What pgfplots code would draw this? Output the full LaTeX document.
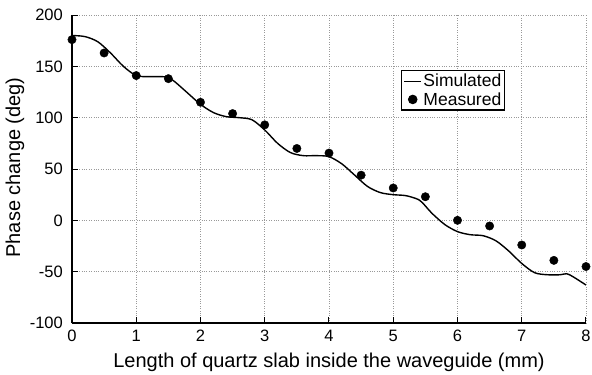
\documentclass[border=0pt]{standalone}
\usepackage{fontspec}
\setmainfont{Liberation Sans}
\usepackage{pgfplots}
\pgfplotsset{compat=1.18}
\begin{document}
\begin{tikzpicture}
\begin{axis}[
  scale only axis,
  width=514pt, height=308pt,
  xmin=0, xmax=8, ymin=-100, ymax=200,
  xtick={0,1,...,8}, ytick={-100,-50,0,50,100,150,200},
  axis x line*=bottom, axis y line*=left,
  axis line style={line width=1.3pt, -},
  tick align=inside,
  major tick length=6pt,
  tick style={black, line width=1pt},
  grid=major,
  grid style={gray!80, dotted, line width=0.7pt},
  /pgf/number format/assume math mode=true,
  ticklabel style={font=\fontsize{16.5}{19}\selectfont},
  xticklabel style={inner sep=0pt, yshift=-7pt},
  yticklabel style={inner sep=0pt, xshift=-9pt},
  label style={font=\fontsize{20}{23}\selectfont},
  xlabel={Length of quartz slab inside the waveguide (mm)},
  ylabel={Phase change (deg)},
  xlabel style={at={(axis description cs:0.5,-0.127)}, anchor=center},
  ylabel style={at={(axis description cs:-0.111,0.505)}, anchor=center},
  legend style={at={(0.640,0.821)}, anchor=north west, draw=black, line width=1.1pt,
    font=\fontsize{17.5}{19}\selectfont, inner xsep=2pt, inner ysep=2pt, row sep=1pt,
    nodes={inner sep=1.5pt}},
  legend cell align=left,
]
\coordinate (O) at (rel axis cs:0,0);
\addplot[black, line width=1.4pt, smooth, tension=0.5] coordinates {
(0,180) (0.2,179) (0.4,174) (0.6,163) (0.8,150) (1.0,141) (1.2,140) (1.4,140)
(1.5,139) (1.6,135) (1.8,124) (2.0,113) (2.2,105) (2.4,101) (2.6,100) (2.8,98)
(3.0,88) (3.2,75) (3.4,66) (3.6,63) (3.8,63) (4.0,62) (4.2,55) (4.4,44)
(4.6,33) (4.8,27) (5.0,25) (5.2,24) (5.4,20) (5.5,14) (5.6,7) (5.8,-4)
(6.0,-11) (6.2,-14) (6.4,-15) (6.6,-20) (6.8,-30) (7.0,-42) (7.2,-51)
(7.4,-53) (7.6,-53) (7.7,-52) (7.8,-55) (8.0,-63)};
\addlegendentry{Simulated}
\addplot[only marks, mark=*, mark size=4.2pt, black] coordinates {
(0,176) (0.5,163) (1,141) (1.5,138) (2,115) (2.5,104) (3,93) (3.5,70)
(4,65.5) (4.5,44) (5,31.5) (5.5,23) (6,0) (6.5,-5.5) (7,-24) (7.5,-39) (8,-45)};
\addlegendentry{Measured}
\end{axis}
\pgfresetboundingbox
\path ([shift={(-72pt,-52pt)}]O) rectangle ([shift={(520pt,323pt)}]O);
\end{tikzpicture}
\end{document}
